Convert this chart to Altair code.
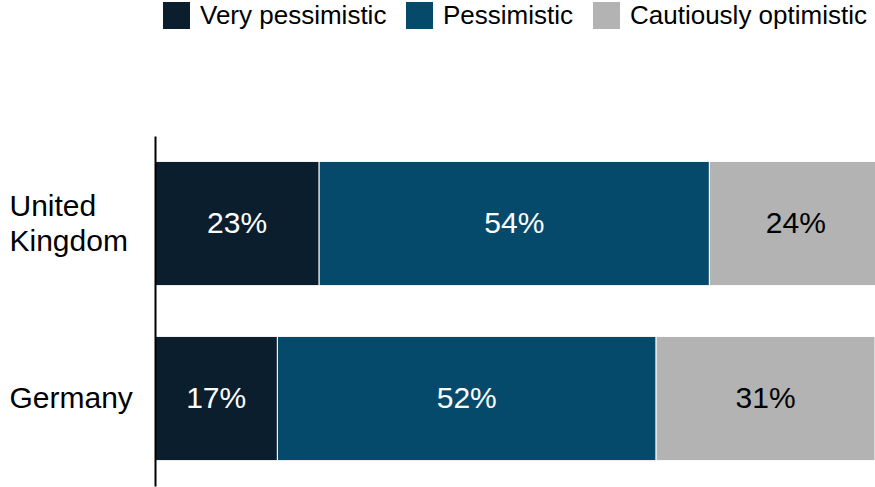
import altair as alt
import pandas as pd

countries = ["United Kingdom", "Germany"]
categories = ["Very pessimistic", "Pessimistic", "Cautiously optimistic"]
uk_values = [22.8, 54.2, 24]
de_values = [17, 52.6, 30.4]
uk_labels = ["23%", "54%", "24%"]
de_labels = ["17%", "52%", "31%"]
colors = ["#0a1e2e", "#054a6b", "#b3b3b3"]
text_colors = ["white", "white", "black"]

rows = []
for c, vals, labs in zip(countries, [uk_values, de_values], [uk_labels, de_labels]):
    for i, (cat, v, lab) in enumerate(zip(categories, vals, labs)):
        rows.append({"country": c, "category": cat, "value": v, "order": i,
                     "label": lab, "tcolor": text_colors[i]})
df = pd.DataFrame(rows)

FONT = "Liberation Sans"

base = alt.Chart(df).transform_stack(
    stack="value", groupby=["country"], as_=["start", "end"],
    sort=[alt.SortField("order", order="ascending")]
).transform_calculate(mid="(datum.start + datum.end) / 2")

x_scale = alt.Scale(domain=[0, 100], nice=False)

y_enc = alt.Y("country:N", sort=countries, title=None,
              scale=alt.Scale(paddingInner=0.29, paddingOuter=0.145),
              axis=alt.Axis(ticks=False, domain=True, domainColor="black", domainWidth=2,
                            zindex=2,
                            labelFont=FONT, labelFontSize=30, labelColor="black",
                            labelAlign="left", labelPadding=146, labelBaseline="middle",
                            labelLineHeight=35,
                            labelOffset={"condition": {"test": "datum.value === 'United Kingdom'", "value": -17}, "value": 0},
                            labelExpr="datum.label == 'United Kingdom' ? ['United', 'Kingdom'] : datum.label"))

bars = base.mark_bar(stroke="white", strokeWidth=1, clip=True).encode(
    y=y_enc,
    x=alt.X("start:Q", axis=None, scale=x_scale),
    x2="end:Q",
    color=alt.Color("category:N", sort=categories,
                    scale=alt.Scale(domain=categories, range=colors),
                    legend=alt.Legend(title=None, orient="none", direction="horizontal",
                                      legendX=8, legendY=-134,
                                      symbolType="square", symbolSize=729,
                                      symbolStrokeWidth=0, symbolOpacity=1,
                                      labelFont=FONT, labelFontSize=26, labelColor="black",
                                      labelLimit=0, labelOffset=10, columnPadding=19)),
)

texts = base.mark_text(font=FONT, fontSize=30, baseline="middle", align="center").encode(
    y=alt.Y("country:N", sort=countries),
    x=alt.X("mid:Q", scale=x_scale),
    text="label:N",
    color=alt.Color("tcolor:N", scale=None),
)

chart = alt.layer(bars, texts).properties(
    width=720, height=350,
    padding={"left": 155, "top": 136, "right": 0, "bottom": 1},
    autosize=alt.AutoSizeParams(type="none"),
).configure_view(stroke=None)

chart.save("out.html", embed_options={"renderer": "svg", "actions": False})
